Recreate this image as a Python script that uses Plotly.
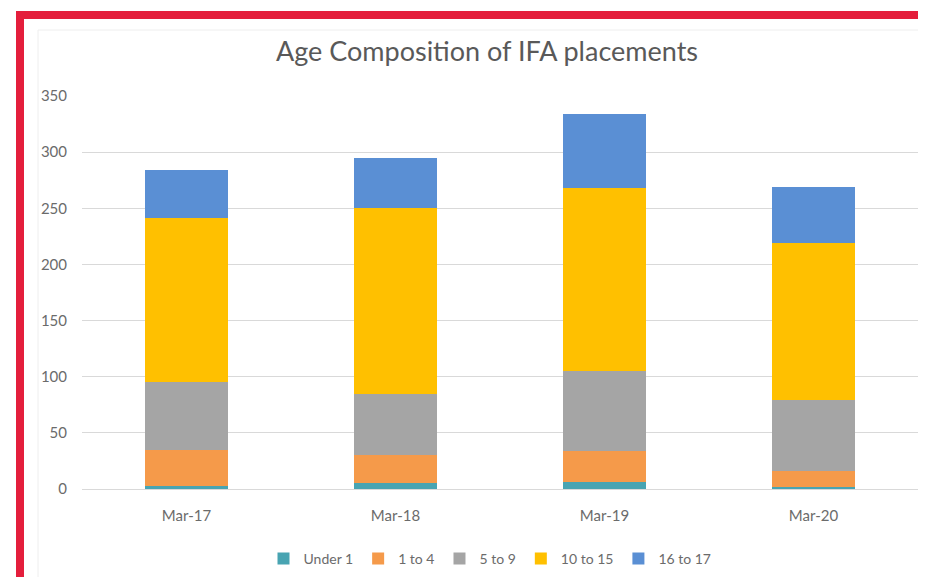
import plotly.graph_objects as go

categories = ["Mar-17", "Mar-18", "Mar-19", "Mar-20"]
series_names = ["Under 1", "1 to 4", "5 to 9", "10 to 15", "16 to 17"]
under_1 = [3, 5, 6, 2]
age_1_to_4 = [32, 25, 28, 14]
age_5_to_9 = [60, 55, 71, 63]
age_10_to_15 = [146, 165, 163, 140]
age_16_to_17 = [43, 45, 66, 50]
y_ticks = [0, 50, 100, 150, 200, 250, 300, 350]

series_values = [under_1, age_1_to_4, age_5_to_9, age_10_to_15, age_16_to_17]
colors = ["#48A4B2", "#F59A4A", "#A5A5A5", "#FFC000", "#5A8FD4"]

FONT = "Lato, 'Open Sans', sans-serif"

# page body has an 8px margin; figure sized so the page does not overflow.
W, H = 910, 569
OFF = 8
L, R, T, B = 82 - OFF, 0, 96 - OFF, H - (489 - OFF)
PW = W - L - R
PH = H - T - B


def px_x(p):
    """screen x -> paper x"""
    return (p - OFF - L) / PW


def px_y(p):
    """screen y -> paper y"""
    return (H - B - (p - OFF)) / PH


fig = go.Figure()
for name, vals, col in zip(series_names, series_values, colors):
    fig.add_trace(go.Bar(x=categories, y=vals, name=name, marker_color=col,
                         marker_line_width=0))

fig.update_layout(
    barmode="stack",
    bargap=0.6,
    width=W, height=H,
    margin=dict(l=L, r=R, t=T, b=B),
    paper_bgcolor="white",
    plot_bgcolor="white",
    title=dict(text="Age Composition of IFA placements", x=(487 - OFF) / W, xanchor="center",
               y=1 - (52 - OFF) / H, yanchor="middle", yref="container",
               font=dict(family=FONT, size=27, color="#595959")),
    font=dict(family=FONT, color="#6B6B6B"),
    xaxis=dict(showgrid=False, showline=False, ticks="", ticklabelstandoff=16,
               tickfont=dict(size=15, color="#6B6B6B")),
    yaxis=dict(range=[0, 350], tickvals=y_ticks, showgrid=True, gridcolor="#D9D9D9",
               gridwidth=1, zeroline=True, zerolinecolor="#D9D9D9", zerolinewidth=1,
               tickfont=dict(size=15, color="#6B6B6B"), ticklabelstandoff=14),
    legend=dict(orientation="h", x=px_x(490), xanchor="center", y=px_y(559), yanchor="middle",
                font=dict(size=14, color="#6B6B6B"), traceorder="normal",
                itemwidth=30, tracegroupgap=0),
    showlegend=True,
    shapes=[
        dict(type="rect", xref="paper", yref="paper",
             x0=px_x(38), x1=px_x(960), y0=px_y(578), y1=px_y(30),
             line=dict(color="#EEEEEE", width=1), fillcolor="rgba(0,0,0,0)", layer="below"),
        dict(type="rect", xref="paper", yref="paper",
             x0=px_x(20), x1=px_x(960), y0=px_y(640), y1=px_y(15),
             line=dict(color="#E41E3C", width=8), fillcolor="rgba(0,0,0,0)"),
    ],
)

fig.write_html("out.html")
